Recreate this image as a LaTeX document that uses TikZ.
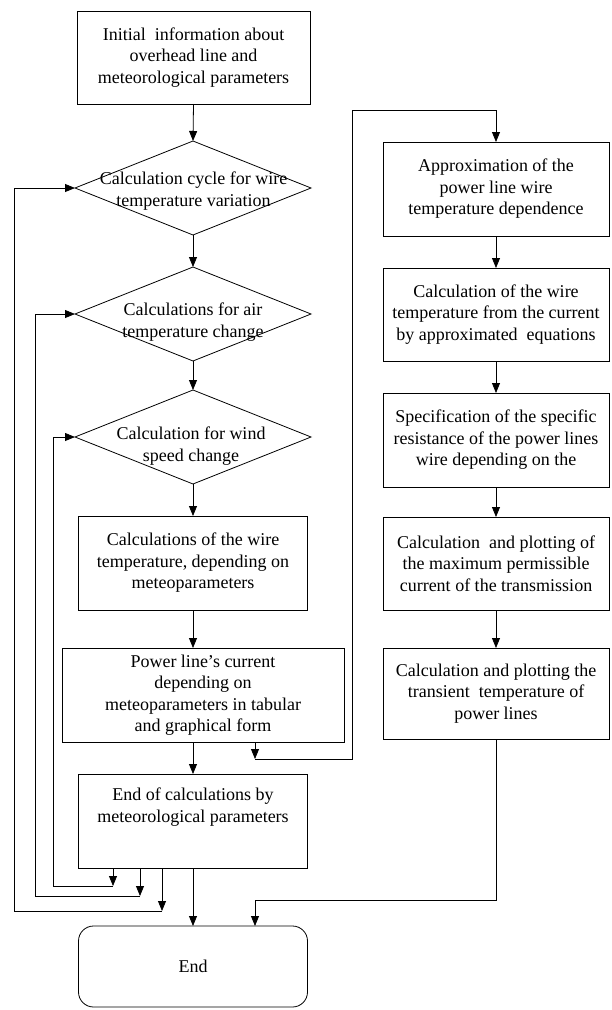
\documentclass[tikz,border=0pt]{standalone}
\usepackage{fontspec}
\setmainfont{Liberation Serif}[Ligatures=ResetAll]
\usetikzlibrary{shapes.geometric,arrows.meta,calc}
\begin{document}
\begin{tikzpicture}[x=1pt,y=-1pt,
  font=\fontsize{18}{21.5}\selectfont,
  line width=0.8pt,
  box/.style={draw, rectangle, align=center, inner sep=0pt, outer sep=0pt},
  dia/.style={draw, diamond, inner sep=0pt, outer sep=0pt, minimum width=236pt, minimum height=94pt},
  txt/.style={align=center, inner sep=0pt},
  arr/.style={-{Triangle[length=10pt,width=8pt]}}]
\useasboundingbox (0,0) rectangle (611,1010);

% left column
\node[box, minimum width=233pt, minimum height=93pt] (b1) at (193.5,57.5)
  {Initial\ \ information about\\ overhead line and\\ meteorological parameters};
\node[dia] (d1) at (193,188) {};
\node[txt] (d1t) at (193.5,191) {Calculation cycle for wire\\ temperature variation};
\node[dia] (d2) at (193,314) {};
\node[txt] (d2t) at (193,322) {Calculations for air\\ temperature change};
\node[dia] (d3) at (193,437) {};
\node[txt] (d3t) at (191,446) {Calculation for wind\\ speed change};
\node[box, minimum width=229pt, minimum height=94pt] (b4) at (193,563)
  {Calculations of the wire\\ temperature, depending on\\ meteoparameters};
\node[box, minimum width=282pt, minimum height=94pt] (b5) at (203,695)
  {Power line's current\\ depending on\\ meteoparameters in tabular\\ and graphical form};
\node[box, minimum width=229pt, minimum height=94pt] (b6) at (193,821)
  {End of calculations by\\ meteorological parameters\\[10pt]~};
\node[box, rounded corners=15pt, minimum width=229pt, minimum height=81pt] (end) at (193,966.5) {End};

% right column
\node[box, minimum width=226pt, minimum height=94pt] (r1) at (496,189)
  {Approximation of the\\ power line wire\\ temperature dependence};
\node[box, minimum width=226pt, minimum height=93pt] (r2) at (496,314.5)
  {Calculation of the wire\\ temperature from the current\\ by approximated\ \ equations};
\node[box, minimum width=226pt, minimum height=94pt] (r3) at (496,440)
  {Specification of the specific\\ resistance of the power lines\\ wire depending on the};
\node[box, minimum width=226pt, minimum height=93pt] (r4) at (496,563.5)
  {Calculation\ \ and plotting of\\ the maximum permissible\\ current of the transmission};
\node[box, minimum width=226pt, minimum height=91pt] (r5) at (496,693.5)
  {Calculation and plotting the\\ transient\ \ temperature of\\ power lines};

% helper coordinates
\coordinate (c1) at (255,759);
\coordinate (c2) at (352,759);
\coordinate (c3) at (352,110);
\coordinate (c4) at (255,900);
\coordinate (l1) at (162,911);
\coordinate (l1a) at (14,911);
\coordinate (l2) at (140,896);
\coordinate (l2a) at (35,896);
\coordinate (l3) at (113,886);
\coordinate (l3a) at (53,886);

% main flow
\draw[arr] (b1.south) -- (d1.north);
\draw[arr] (d1.south) -- (d2.north);
\draw[arr] (d2.south) -- (d3.north);
\draw[arr] (d3.south) -- (b4.north);
\draw[arr] (b4.south) -- (b4.south |- b5.north);
\draw[arr] (b6.north |- b5.south) -- (b6.north);
\draw[arr] (b6.south) -- (end.north);

% to right column
\draw[arr] (b5.south -| c1) -- (c1);
\draw[arr] (c1) -- (c2) -- (c3) -| (r1.north);
\draw[arr] (r1.south) -- (r2.north);
\draw[arr] (r2.south) -- (r3.north);
\draw[arr] (r3.south) -- (r4.north);
\draw[arr] (r4.south) -- (r5.north);
\draw[arr] (r5.south) |- (c4) -- (c4 |- end.north);

% loops back
\draw[arr] (b6.south -| l1) -- (l1);
\draw[arr] (l1) -- (l1a) -- (l1a |- d1.west) -- (d1.west);
\draw[arr] (b6.south -| l2) -- (l2);
\draw[arr] (l2) -- (l2a) -- (l2a |- d2.west) -- (d2.west);
\draw[arr] (b6.south -| l3) -- (l3);
\draw[arr] (l3) -- (l3a) -- (l3a |- d3.west) -- (d3.west);
\end{tikzpicture}
\end{document}
